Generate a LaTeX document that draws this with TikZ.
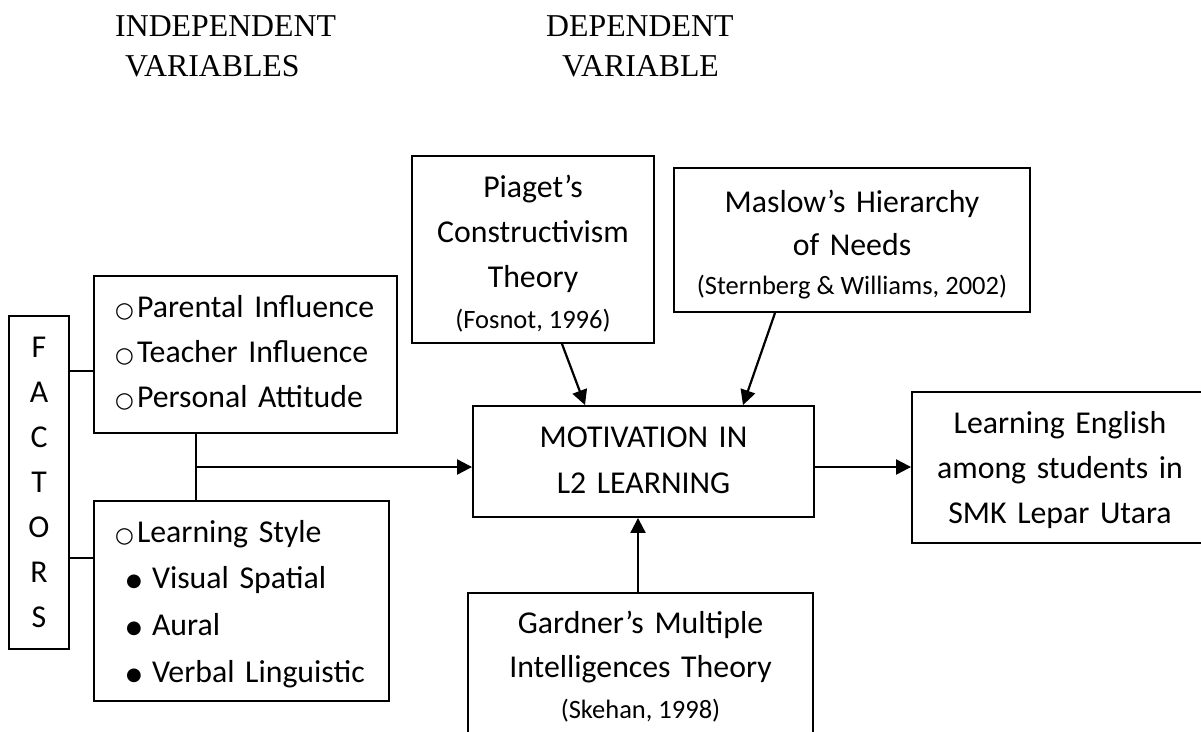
\documentclass[tikz,border=0pt]{standalone}
\usepackage{fontspec}
\setmainfont{Carlito}
\newfontfamily\hdrfont{Liberation Serif}
\newfontfamily\dejavu{DejaVu Sans}
\usetikzlibrary{arrows.meta}
\newcommand\bigfont{\fontsize{31.8}{45}\selectfont\frenchspacing\spaceskip=0.2265em\relax}
\newcommand\smallfont{\fontsize{26.5}{41}\selectfont\spaceskip=0.2265em\relax}
\newcommand\topst[1]{\rule{0pt}{#1pt}}
\newcommand\botst[1]{\rule[-#1pt]{0pt}{#1pt}}
\newcommand\oc{\makebox[19pt]{\dejavu\fontsize{21.5}{21.5}\selectfont ○}\hspace{3pt}}
\newcommand\bu{\makebox[38pt]{\raisebox{2pt}{\dejavu\fontsize{18}{18}\selectfont ●}}\hspace{-1pt}}
\begin{document}
\begin{tikzpicture}[x=1pt,y=-1pt,
  box/.style={draw, line width=1.9pt, inner ysep=0pt, inner xsep=5pt, font=\bigfont},
  conn/.style={line width=1.9pt},
  arr/.style={line width=2.2pt, -{Triangle[length=15pt,width=15pt]}},
  hdr/.style={anchor=north west, inner sep=0pt, text width=260pt, align=left,
    font=\hdrfont\fontsize{31.8}{40.5}\selectfont}]
\clip (0,0) rectangle (1201,731);
\fill[white] (0,0) rectangle (1201,731);

% headers
\node[hdr] (indep) at (115,6) {\topst{30}INDEPENDENT\\\hspace*{10pt}VARIABLES};
\node[hdr] (dep) at (546,6) {\topst{30}DEPENDENT\\\hspace*{16pt}VARIABLE};

% boxes
\node[box, text width=50pt, align=center, minimum height=333pt] (fac) at (39,482.5)
  {\topst{29}F\\A\\C\\T\\O\\R\\S\botst{10}};
\node[box, inner xsep=21pt, text width=261pt, align=left, minimum height=157pt] (fa) at (245.5,354.5)
  {\topst{26}\oc Parental Influence\\\oc Teacher Influence\\\oc Personal Attitude\botst{11}};
\node[box, inner xsep=21pt, text width=253pt, align=left, minimum height=200pt] (fb) at (241.5,601)
  {\topst{32}\oc Learning Style\\[1.67pt]\bu Visual Spatial\\[1.67pt]\bu Aural\\[1.67pt]\bu Verbal Linguistic\botst{10}};
\node[box, text width=232pt, align=center, minimum height=187pt] (pia) at (533,249.5)
  {\topst{36}Piaget’s\\Constructivism\\Theory\\[-4pt]{\smallfont (Fosnot, 1996)}\botst{10}};
\node[box, text width=346pt, align=center, minimum height=144pt] (mas) at (852,240)
  {\topst{36}Maslow’s Hierarchy\\[-2pt]of Needs\\[-6pt]{\smallfont (Sternberg \& Williams, 2002)}\botst{10}};
\node[box, text width=331pt, align=center, minimum height=111pt] (mot) at (643.5,461.5)
  {\topst{27}MOTIVATION IN\\[1pt]L2 LEARNING\botst{10}};
\node[box, text width=286pt, align=center, minimum height=151pt] (lea) at (1060,467.5)
  {\topst{31}Learning English\\among students in\\SMK Lepar Utara\botst{10}};
\node[box, text width=335pt, align=center, minimum height=143pt] (gar) at (640.5,664.5)
  {\topst{32}Gardner’s Multiple\\[-1pt]Intelligences Theory\\[-4pt]{\smallfont (Skehan, 1998)}\botst{10}};

% connectors
\coordinate (ya) at (0,371);
\coordinate (yb) at (0,558);
\coordinate (jn) at (196,467);
\coordinate (p1) at (562,0);
\coordinate (p2) at (585,0);
\coordinate (m1) at (775,0);
\coordinate (m2) at (743,0);
\coordinate (g1) at (638,0);
\draw[conn] (fac.east |- ya) -- (fa.west |- ya);
\draw[conn] (fac.east |- yb) -- (fb.west |- yb);
\draw[conn] (fa.south -| jn) -- (fb.north -| jn);
\draw[arr] (jn) -- (mot.west |- jn);
\draw[arr] (pia.south -| p1) -- (mot.north -| p2);
\draw[arr] (mas.south -| m1) -- (mot.north -| m2);
\draw[arr] (gar.north -| g1) -- (mot.south -| g1);
\draw[arr] (mot.east |- jn) -- (lea.west |- jn);
\end{tikzpicture}
\end{document}
